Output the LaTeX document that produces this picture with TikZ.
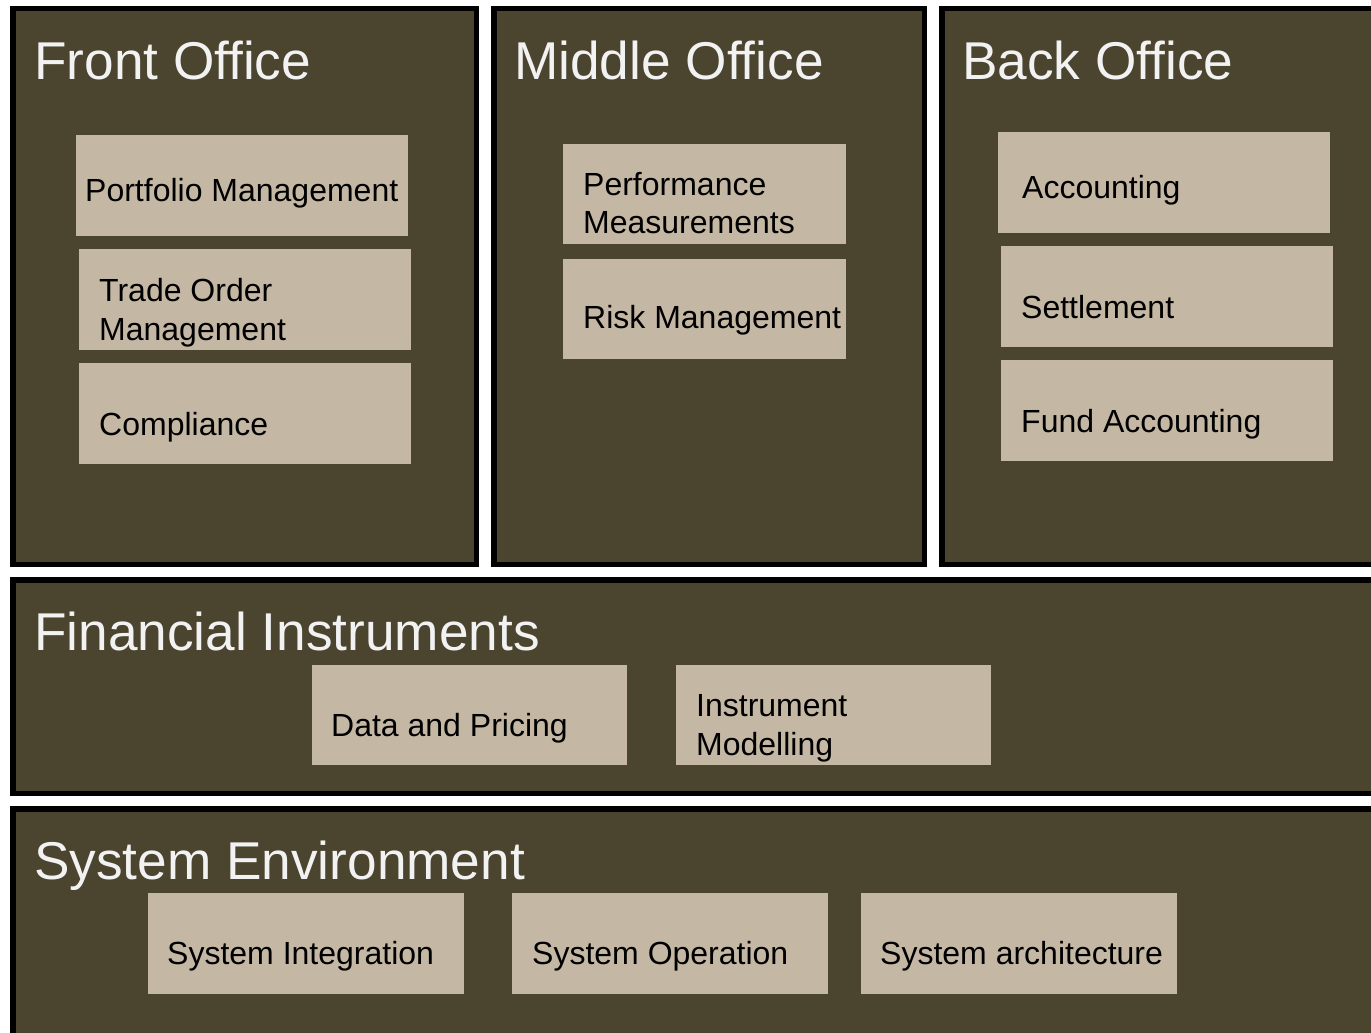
\documentclass[tikz,border=0pt]{standalone}
\usepackage{fontspec}
\setmainfont{Liberation Sans}
\definecolor{olive}{RGB}{75,68,46}
\definecolor{tan}{RGB}{196,183,164}
\definecolor{titlewhite}{RGB}{242,242,242}
\begin{document}
\begin{tikzpicture}[x=1pt,y=-1pt,
  panel/.style={draw=black,line width=5.5pt,fill=olive},
  item/.style={fill=tan,draw=none},
  ptitle/.style={anchor=base west,inner sep=0pt,text=titlewhite,font=\fontsize{53.2}{63}\selectfont},
  itext/.style={anchor=base west,inner sep=0pt,text=black,align=left,font=\fontsize{32}{38.3}\selectfont}]
\useasboundingbox (0,0) rectangle (1371,1033);
\fill[white] (0,0) rectangle (1371,1033);
\begin{scope}
\clip (0,0) rectangle (1371,1033);
% panels
\draw[panel] (12.75,8.75) rectangle (476.25,564.25);
\draw[panel] (493.75,8.75) rectangle (924.25,564.25);
\draw[panel] (941.75,8.75) rectangle (1385,564.25);
\draw[panel] (12.75,579.75) rectangle (1385,793.25);
\draw[panel] (12.75,808.75) rectangle (1385,1045);
\end{scope}
% titles
\node[ptitle] (tfront) at (34,80) {Front Office};
\node[ptitle] (tmiddle) at (514,80) {Middle Office};
\node[ptitle] (tback) at (962,80) {Back Office};
\node[ptitle] (tfin) at (34,650) {Financial Instruments};
\node[ptitle] (tsys) at (34,879) {System Environment};
% front office items
\fill[item] (76,135) rectangle (408,236);
\node[itext] (pm) at (85,201) {Portfolio Management};
\fill[item] (79,249) rectangle (411,350);
\node[itext] (tom) at (99,340) {Trade Order\\Management};
\fill[item] (79,363) rectangle (411,464);
\node[itext] (comp) at (99,435) {Compliance};
% middle office items
\fill[item] (563,144) rectangle (846,244);
\node[itext] (perf) at (583,233.5) {Performance\\Measurements};
\fill[item] (563,259) rectangle (846,359);
\node[itext] (risk) at (583,328) {Risk Management};
% back office items
\fill[item] (998,132) rectangle (1330,233);
\node[itext] (acc) at (1022,198) {Accounting};
\fill[item] (1001,246) rectangle (1333,347);
\node[itext] (sett) at (1021,318) {Settlement};
\fill[item] (1001,360) rectangle (1333,461);
\node[itext] (fund) at (1021,432) {Fund Accounting};
% financial instruments
\fill[item] (312,665) rectangle (627,765);
\node[itext] (dp) at (331,736) {Data and Pricing};
\fill[item] (676,665) rectangle (991,765);
\node[itext] (im) at (696,755) {Instrument\\Modelling};
% system environment
\fill[item] (148,893) rectangle (464,994);
\node[itext] (si) at (167,964) {System Integration};
\fill[item] (512,893) rectangle (828,994);
\node[itext] (so) at (532,964) {System Operation};
\fill[item] (861,893) rectangle (1177,994);
\node[itext] (sa) at (880,964) {System architecture};
\end{tikzpicture}
\end{document}
